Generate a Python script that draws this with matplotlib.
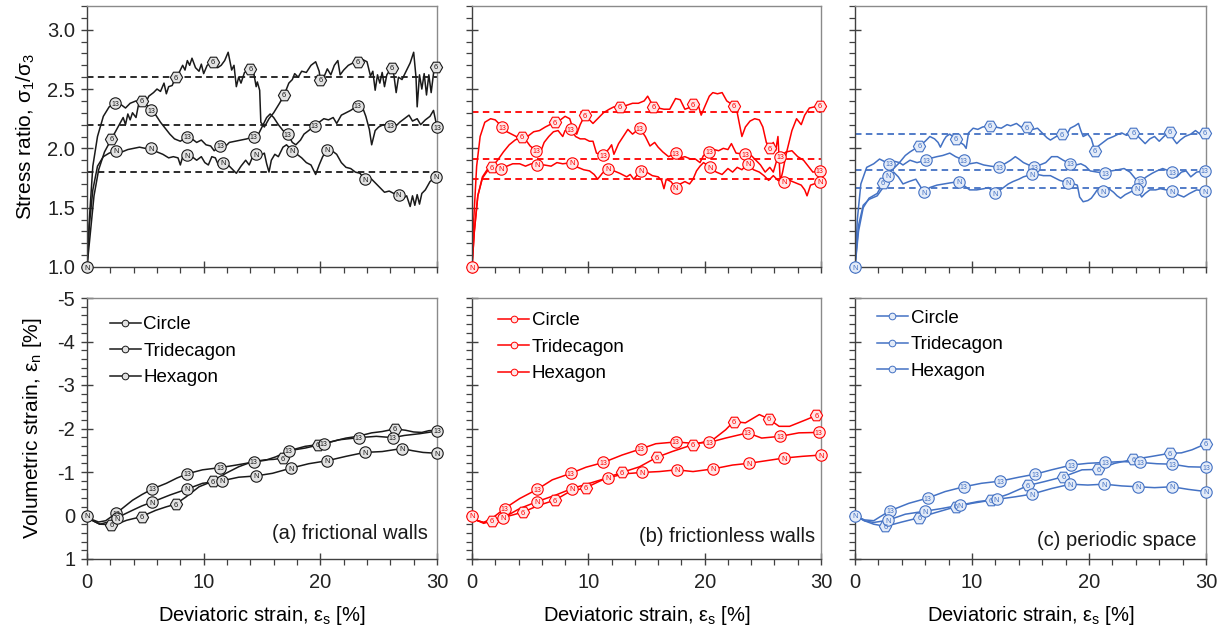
import numpy as np
import matplotlib
matplotlib.use("Agg")
import matplotlib.pyplot as plt
from matplotlib.lines import Line2D
from matplotlib.ticker import MultipleLocator, FormatStrFormatter

plt.rcParams['font.family'] = ['Liberation Sans', 'DejaVu Sans']
plt.rcParams['axes.unicode_minus'] = False
plt.rcParams['mathtext.default'] = 'regular'

# ---------------- data: (strain, value[, 1 = labelled marker]) ----------------
# Top row: stress ratio sigma1/sigma3 vs deviatoric strain
a_hex = [(0,1.0),(0.3,1.3),(0.6,1.6),(1.0,1.82),(1.5,1.97),(2.1,2.08,1),(2.6,2.17),(3.1,2.26),(3.3,2.20),(3.5,2.29),
         (3.7,2.24),(3.9,2.30),(4.2,2.26),(4.4,2.36),(4.7,2.40,1),(5.0,2.38),(5.3,2.44),(5.7,2.47),(6.0,2.50),(6.3,2.48),
         (6.6,2.55),(6.8,2.46),(7.0,2.52),(7.3,2.53),(7.6,2.60,1),(7.9,2.64),(8.2,2.70),(8.4,2.66),(8.6,2.74),(8.8,2.70),
         (9.0,2.76),(9.3,2.68),(9.6,2.65),(9.8,2.71),(10.0,2.63),(10.3,2.70),(10.8,2.73,1),(11.2,2.68),(11.5,2.70),(11.8,2.74),
         (12.1,2.81),(12.4,2.66),(12.6,2.70),(12.8,2.52),(13.0,2.60),(13.2,2.55),(13.5,2.64),(14.0,2.67,1),(14.3,2.63),(14.5,2.52),
         (14.6,2.56),(14.8,2.49),(14.9,2.22),(15.2,2.18),(15.6,2.25),(16.0,2.30),(16.5,2.38),(16.9,2.45,1),(17.3,2.55),(17.6,2.58),
         (17.8,2.63),(18.1,2.60),(18.4,2.65),(18.8,2.64),(19.2,2.70),(19.6,2.73),(19.9,2.65),(20.0,2.58,1),(20.3,2.60),(20.6,2.67),
         (20.9,2.62),(21.2,2.70),(21.5,2.74),(21.7,2.62),(22.0,2.66),(22.4,2.70),(22.8,2.72),(23.2,2.73,1),(23.6,2.75),(24.0,2.73),
         (24.3,2.61),(24.5,2.65),(24.7,2.49),(24.9,2.62),(25.1,2.55),(25.3,2.64),(25.5,2.52),(25.7,2.62),(26.1,2.68,1),(26.3,2.62),
         (26.5,2.47),(26.7,2.60),(27.0,2.58),(27.3,2.64),(27.7,2.72),(28.0,2.81),(28.2,2.60),(28.3,2.35),(28.5,2.62),(28.7,2.50),
         (28.9,2.63),(29.1,2.45),(29.3,2.62),(29.5,2.47),(29.7,2.63),(29.9,2.69,1)]
a_tri = [(0,1.0),(0.2,1.4),(0.5,1.85),(0.9,2.1),(1.4,2.27),(1.9,2.35),(2.4,2.38,1),(2.9,2.37),(3.3,2.34),(3.7,2.38),
         (4.2,2.40),(4.6,2.37),(5.0,2.38),(5.5,2.32,1),(5.9,2.28),(6.3,2.22),(6.7,2.17),(7.1,2.12),(7.5,2.08),(8.0,2.06),
         (8.6,2.10,1),(9.0,2.08),(9.4,2.05),(9.8,2.07),(10.2,2.03),(10.6,2.02),(10.9,1.98),(11.4,2.02,1),(11.8,2.01),(12.2,2.05),
         (12.7,2.06),(13.2,2.07),(13.7,2.08),(14.3,2.10,1),(14.7,2.12),(15.0,2.18),(15.4,2.26),(15.7,2.29),(16.0,2.26),(16.4,2.20),
         (16.8,2.15),(17.2,2.12,1),(17.6,2.05),(17.9,2.03),(18.3,2.07),(18.6,2.12),(19.0,2.15),(19.5,2.19,1),(19.9,2.22),(20.3,2.25),
         (20.7,2.24),(21.1,2.26),(21.4,2.21),(21.8,2.28),(22.2,2.30),(22.6,2.32),(23.2,2.36,1),(23.6,2.35),(23.9,2.27),(24.2,2.16),
         (24.4,2.03),(24.7,2.15),(25.0,2.18),(25.4,2.20),(26.0,2.19,1),(26.4,2.18),(26.8,2.22),(27.2,2.25),(27.6,2.28),(27.9,2.23),
         (28.3,2.25),(28.6,2.20),(29.0,2.24),(29.4,2.27),(29.7,2.32),(30.0,2.18,1)]
a_cir = [(0,1.0,1),(0.2,1.35),(0.5,1.65),(0.9,1.85),(1.4,1.93),(1.9,1.96),(2.5,1.98,1),(3.0,1.97),(3.5,1.99),(4.0,2.00),
         (4.5,2.01),(5.0,2.00),(5.5,2.00,1),(6.0,1.97),(6.5,1.95),(7.0,1.92),(7.4,1.93),(7.8,1.92),(8.0,1.86),(8.2,1.93),
         (8.6,1.94,1),(9.0,1.93),(9.4,1.90),(9.8,1.93),(10.1,1.88),(10.4,1.86),(10.7,1.93),(11.0,1.92),(11.3,1.85),(11.7,1.88,1),
         (12.1,1.86),(12.4,1.83),(12.8,1.79),(13.2,1.85),(13.6,1.90),(13.9,1.86),(14.2,1.93),(14.5,1.95,1),(14.9,1.94),(15.2,1.96),
         (15.4,1.87),(15.6,1.80),(15.8,1.90),(16.1,1.95),(16.4,1.93),(16.8,2.01),(17.1,2.03),(17.6,1.98,1),(18.0,1.95),(18.4,1.92),
         (18.8,1.88),(19.2,1.86),(19.6,1.78),(19.9,1.86),(20.2,1.93),(20.6,1.99,1),(21.0,1.98),(21.4,1.95),(21.8,1.88),(22.2,1.84),
         (22.6,1.83),(23.0,1.80),(23.4,1.79),(23.8,1.74,1),(24.2,1.76),(24.6,1.72),(25.1,1.67),(25.5,1.63),(25.9,1.64),(26.3,1.62),
         (26.7,1.61,1),(27.1,1.58),(27.4,1.60),(27.7,1.51),(27.9,1.60),(28.1,1.52),(28.3,1.61),(28.5,1.53),(28.7,1.62),(29.0,1.65),
         (29.4,1.72),(29.9,1.76,1)]
a_ref = [2.6, 2.2, 1.8]

b_hex = [(0,1.0),(0.2,1.3),(0.5,1.6),(0.9,1.76),(1.3,1.82),(1.7,1.84,1),(2.2,1.90),(2.7,1.97),(3.2,2.03),(3.7,2.07),
         (4.3,2.10,1),(4.6,2.07),(4.9,2.11),(5.3,2.14),(5.8,2.15),(6.3,2.18),(6.7,2.20),(7.1,2.22,1),(7.6,2.24),(8.0,2.27),
         (8.4,2.25),(8.7,2.16),(9.0,2.12),(9.3,2.20),(9.7,2.28,1),(10.0,2.25),(10.4,2.21),(10.8,2.25),(11.3,2.30),(11.8,2.33),
         (12.2,2.35),(12.7,2.35,1),(13.2,2.36),(13.8,2.38),(14.3,2.38),(14.8,2.40),(15.1,2.44),(15.6,2.35,1),(16.0,2.34),(16.5,2.33),
         (17.0,2.33),(17.5,2.42),(17.9,2.41),(18.3,2.33),(18.6,2.34),(19.0,2.37,1),(19.4,2.38),(19.7,2.28),(20.0,2.35),(20.4,2.44),
         (20.7,2.47),(21.1,2.46),(21.5,2.47),(21.9,2.40),(22.2,2.38),(22.5,2.36,1),(22.8,2.30),(23.2,2.10),(23.5,2.18),(23.9,2.23),
         (24.3,2.25),(24.7,2.24),(25.0,2.18),(25.3,2.05),(25.6,2.00,1),(25.9,2.05),(26.1,1.98),(26.3,2.10),(26.5,1.72),(26.7,1.80),
         (27.0,1.95),(27.5,2.15),(27.9,2.25),(28.3,2.20),(28.6,2.28),(29.0,2.34),(29.9,2.36,1)]
b_tri = [(0,1.0),(0.15,1.4),(0.4,1.85),(0.7,2.1),(1.1,2.22),(1.6,2.25),(2.0,2.24),(2.6,2.18,1),(3.0,2.14),(3.4,2.12),
         (3.8,2.10),(4.3,2.09),(4.7,2.06),(5.0,2.02),(5.5,1.98,1),(5.9,1.97),(6.2,2.05),(6.6,2.10),(7.0,2.14),(7.4,2.15),
         (7.8,2.10),(8.0,2.15),(8.5,2.16,1),(8.9,2.10),(9.3,2.08),(9.7,2.08),(10.1,2.06),(10.4,2.06),(10.7,1.96),(11.3,1.94,1),
         (11.8,2.00),(12.0,2.03),(12.2,1.95),(12.6,2.04),(13.0,2.10),(13.4,2.16),(13.8,2.12),(14.4,2.17,1),(14.9,2.10),(15.3,2.02),
         (15.7,2.05),(16.0,2.01),(16.4,1.97),(16.9,1.93),(17.5,1.96,1),(17.9,1.92),(18.3,1.93),(18.8,1.91),(19.2,1.91),(19.6,1.88),
         (19.9,1.94),(20.4,1.97,1),(20.8,1.99),(21.2,1.98),(21.6,2.00),(22.0,1.99),(22.3,2.04),(22.7,1.96),(23.5,1.95,1),(24.0,1.94),
         (24.4,1.90),(24.8,1.86),(25.2,1.80),(25.6,1.84),(25.9,1.80),(26.2,1.90),(26.5,1.93,1),(27.0,1.97),(27.5,1.98),(28.0,1.93),
         (28.5,1.90),(28.9,1.85),(29.3,1.80),(29.9,1.81,1)]
b_cir = [(0,1.0,1),(0.2,1.3),(0.5,1.6),(0.9,1.75),(1.4,1.82),(2.5,1.83,1),(3.0,1.85),(3.5,1.87),(4.1,1.87),(4.6,1.85),
         (5.1,1.87),(5.6,1.86,1),(6.2,1.86),(6.8,1.85),(7.3,1.88),(7.8,1.87),(8.6,1.88,1),(9.1,1.84),(9.6,1.82),(10.1,1.81),
         (10.5,1.78),(10.8,1.74),(11.2,1.79),(11.7,1.83,1),(12.2,1.81),(12.7,1.79),(13.3,1.76),(13.6,1.78),(13.9,1.74),(14.5,1.81,1),
         (15.0,1.80),(15.5,1.77),(16.0,1.76),(16.3,1.73),(16.5,1.66),(16.7,1.74),(17.1,1.72),(17.5,1.67,1),(17.9,1.70),(18.3,1.72),
         (18.7,1.70),(19.0,1.74),(19.3,1.81),(19.6,1.85),(19.9,1.88),(20.5,1.84,1),(21.0,1.80),(21.5,1.78),(22.0,1.83),(22.4,1.80),
         (22.8,1.84),(23.2,1.82),(23.7,1.87,1),(24.2,1.82),(24.7,1.80),(25.1,1.77),(25.5,1.73),(25.9,1.77),(26.3,1.73),(26.8,1.72,1),
         (27.3,1.73),(27.8,1.71),(28.3,1.69),(28.6,1.65),(28.8,1.60),(29.1,1.69),(29.4,1.70),(29.9,1.72,1)]
b_ref = [2.31, 1.91, 1.74]

c_hex = [(0,1.0),(0.3,1.3),(0.7,1.5),(1.2,1.58),(1.9,1.62),(2.4,1.71,1),(3.1,1.81),(3.8,1.88),(4.3,1.94),(4.7,1.97),
         (5.5,2.02,1),(6.0,2.06),(6.4,2.10),(6.8,2.08),(7.1,2.05),(7.3,2.01),(7.6,2.07),(7.8,2.10),(8.1,2.12),(8.6,2.08,1),
         (9.0,2.05),(9.3,2.03),(9.5,2.00),(9.7,2.13),(10.1,2.17),(10.5,2.16),(10.9,2.18),(11.5,2.19,1),(12.0,2.18),(12.5,2.17),
         (13.0,2.20),(13.3,2.19),(13.8,2.21),(14.2,2.18),(14.7,2.18,1),(15.2,2.16),(15.6,2.17),(16.1,2.12),(16.4,2.09),(16.7,2.07),
         (17.2,2.10),(17.7,2.12,1),(18.0,2.10),(18.4,2.17),(18.8,2.19),(19.1,2.21),(19.3,2.15),(19.5,2.10),(19.9,2.12),(20.2,2.08),
         (20.5,1.98,1),(20.8,2.02),(21.2,2.05),(21.6,2.08),(22.1,2.10),(22.5,2.12),(22.8,2.13),(23.2,2.11),(23.8,2.13,1),(24.2,2.10),
         (24.5,2.07),(24.8,2.04),(25.2,2.08),(25.6,2.10),(26.0,2.06),(26.4,2.10),(26.9,2.14,1),(27.2,2.08),(27.5,2.04),(27.8,2.07),
         (28.2,2.10),(28.7,2.12),(29.1,2.15),(29.5,2.12),(29.9,2.13,1)]
c_tri = [(0,1.0),(0.2,1.4),(0.5,1.7),(1.0,1.84),(1.6,1.87),(2.1,1.91),(2.9,1.87,1),(3.4,1.89),(3.8,1.88),(4.1,1.86),
         (4.7,1.90),(5.3,1.88),(6.1,1.90,1),(6.6,1.92),(7.0,1.93),(7.5,1.94),(8.1,1.96),(8.6,1.93),(9.3,1.90,1),(9.8,1.87),
         (10.4,1.88),(11.0,1.86),(11.6,1.85),(12.3,1.84,1),(12.8,1.87),(13.3,1.90),(13.7,1.93),(14.0,1.91),(14.4,1.88),(15.3,1.84,1),
         (15.8,1.86),(16.3,1.88),(16.8,1.93),(17.3,1.93),(17.8,1.90),(18.4,1.87,1),(18.9,1.86),(19.3,1.87),(19.7,1.85),(20.1,1.81),
         (20.7,1.80),(21.4,1.79,1),(21.9,1.81),(22.5,1.82),(23.0,1.83),(23.5,1.80),(24.0,1.74),(24.4,1.72,1),(24.9,1.76),(25.4,1.79),
         (25.8,1.81),(26.3,1.83),(27.1,1.80,1),(27.5,1.76),(27.9,1.80),(28.3,1.81),(28.7,1.76),(29.2,1.80),(29.9,1.81,1)]
c_cir = [(0,1.0,1),(0.3,1.35),(0.7,1.52),(1.2,1.57),(1.9,1.60),(2.4,1.67),(2.8,1.77,1),(3.3,1.80),(3.7,1.76),(4.1,1.70),
         (4.6,1.72),(5.2,1.74),(5.9,1.63,1),(6.4,1.67),(7.0,1.69),(7.6,1.70),(8.2,1.71),(8.9,1.72,1),(9.4,1.68),(9.8,1.65),
         (10.4,1.65),(11.0,1.66),(11.4,1.67),(12.0,1.62,1),(12.4,1.65),(12.7,1.67),(13.1,1.70),(13.5,1.72),(14.0,1.74),(14.4,1.76),
         (15.1,1.78,1),(15.6,1.78),(16.1,1.77),(16.7,1.77),(17.1,1.75),(17.5,1.73),(18.2,1.71,1),(18.7,1.70),(19.0,1.69),(19.2,1.59),
         (19.5,1.55),(19.9,1.56),(20.2,1.58),(20.5,1.62),(20.7,1.65),(21.2,1.64,1),(21.7,1.66),(22.1,1.63),(22.4,1.60),(22.7,1.58),
         (23.1,1.61),(23.5,1.63),(24.1,1.66,1),(24.5,1.59),(24.8,1.62),(25.2,1.65),(25.7,1.65),(26.1,1.66),(26.6,1.65),(27.1,1.64,1),
         (27.6,1.61),(28.1,1.59),(28.6,1.62),(29.2,1.65),(29.9,1.64,1)]
c_ref = [2.12, 1.82, 1.67]

# Bottom row: volumetric strain vs deviatoric strain
av_hex = [(0,0),(0.5,0.12),(1.1,0.2),(2.1,0.21,1),(2.8,0.17),(3.4,0.11),(4.0,0.07),(4.7,0.03,1),(5.3,-0.05),(5.9,-0.12),
          (6.8,-0.2),(7.6,-0.26,1),(8.5,-0.43),(9.6,-0.66),(10.8,-0.79,1),(11.9,-0.97),(13.0,-1.12),(14.2,-1.24),(15.3,-1.28),
          (16.0,-1.29),(16.8,-1.32,1),(17.6,-1.51),(18.7,-1.59),(19.8,-1.63,1),(21.0,-1.70),(22.2,-1.78),(23.2,-1.82),(24.4,-1.90),
          (25.3,-1.93),(26.4,-1.99,1),(27.3,-1.96),(28.0,-1.92),(28.7,-1.91),(29.3,-1.95),(30.0,-1.96)]
av_tri = [(0,0),(0.5,0.1),(1.0,0.15),(1.6,0.12),(2.5,-0.05,1),(3.2,-0.2),(3.9,-0.35),(4.7,-0.48),(5.6,-0.61,1),(6.8,-0.74),
          (7.7,-0.86),(8.6,-0.96,1),(9.9,-1.05),(11.4,-1.10,1),(12.8,-1.16),(14.3,-1.23,1),(15.3,-1.27),(16.2,-1.35),(17.3,-1.49,1),
          (18.7,-1.55),(20.3,-1.65,1),(21.6,-1.74),(23.3,-1.79,1),(24.8,-1.82),(26.2,-1.79,1),(27.2,-1.84),(28.5,-1.88),(29.5,-1.92),
          (30.0,-1.95,1)]
av_cir = [(0,0,1),(0.5,0.12),(1.1,0.2),(1.8,0.15),(2.6,0.06,1),(3.2,-0.03),(3.9,-0.12),(4.7,-0.22),(5.6,-0.31,1),(7.1,-0.47),
          (8.6,-0.61,1),(9.9,-0.74),(11.6,-0.80,1),(13.0,-0.88),(14.5,-0.91,1),(15.9,-0.97),(17.5,-1.09,1),(19.0,-1.19),
          (20.6,-1.26,1),(22.2,-1.36),(23.8,-1.45,1),(25.3,-1.47),(27.0,-1.54,1),(27.9,-1.49),(28.8,-1.45),(30.0,-1.43,1)]

bv_hex = [(0,0),(0.5,0.12),(1.0,0.16),(1.7,0.12,1),(2.3,0.07),(2.9,0.03),(3.6,-0.02),(4.4,-0.08,1),(5.1,-0.16),(5.8,-0.24),
          (7.1,-0.35,1),(8.4,-0.55),(9.8,-0.64,1),(10.9,-0.78),(11.9,-0.9),(12.9,-0.99,1),(14.4,-1.12),(15.9,-1.34,1),(17.2,-1.47),
          (19.0,-1.63,1),(20.7,-1.74),(21.8,-1.97),(22.5,-2.16,1),(23.5,-2.13),(24.7,-2.32),(25.5,-2.22,1),(26.4,-2.05),(27.3,-2.05),
          (28.7,-2.20),(29.6,-2.30,1)]
bv_tri = [(0,0),(0.5,0.12),(1.0,0.16),(1.8,0.05),(2.8,-0.16,1),(4.1,-0.39),(5.6,-0.60,1),(6.9,-0.82),(8.5,-0.97,1),(9.8,-1.11),
          (11.3,-1.22,1),(12.9,-1.39),(14.5,-1.53,1),(15.8,-1.65),(17.5,-1.69,1),(19.0,-1.66),(20.4,-1.68,1),(21.8,-1.78),
          (23.7,-1.90,1),(24.9,-1.78),(26.5,-1.82,1),(28.1,-1.90),(29.8,-1.91,1)]
bv_cir = [(0,0,1),(0.5,0.12),(1.0,0.18),(1.8,0.12),(2.7,0.05,1),(4.1,-0.16),(5.6,-0.32,1),(7.2,-0.47),(8.6,-0.62,1),(10.1,-0.74),
          (11.7,-0.87,1),(13.2,-0.96),(14.6,-0.99,1),(16.1,-1.01),(17.6,-1.05,1),(19.0,-1.01),(20.7,-1.07,1),(22.4,-1.16),
          (23.8,-1.20,1),(25.3,-1.26),(26.8,-1.32,1),(28.4,-1.36),(30.0,-1.39,1)]

cv_hex = [(0,0),(0.8,0.12),(1.6,0.2),(2.6,0.25,1),(4.0,0.15),(5.5,0.05,1),(6.8,-0.06),(8.6,-0.20,1),(10.0,-0.28),(11.6,-0.35,1),
          (13.1,-0.49),(14.8,-0.69,1),(16.2,-0.78),(17.8,-0.89,1),(19.4,-1.05),(20.8,-1.06,1),(22.2,-1.20),(23.8,-1.29,1),
          (25.4,-1.36),(26.9,-1.43,1),(27.9,-1.44),(28.8,-1.51),(30.0,-1.65,1)]
cv_tri = [(0,0),(0.8,0.1),(1.6,0.12),(2.2,0.02),(3.0,-0.11,1),(4.6,-0.28),(6.2,-0.40,1),(7.7,-0.55),(9.3,-0.66,1),(10.8,-0.74),
          (12.4,-0.79,1),(14.0,-0.88),(15.4,-0.95,1),(16.8,-1.05),(18.5,-1.16,1),(19.9,-1.20),(21.4,-1.22,1),(22.8,-1.24),
          (24.4,-1.22,1),(25.8,-1.19),(27.1,-1.18,1),(28.5,-1.12),(30.0,-1.11,1)]
cv_cir = [(0,0,1),(0.8,0.12),(1.6,0.16),(2.8,0.11,1),(4.3,-0.03),(6.0,-0.10,1),(7.4,-0.16),(9.0,-0.24,1),(10.5,-0.32),
          (12.1,-0.37,1),(13.7,-0.43),(15.1,-0.49,1),(16.8,-0.62),(18.4,-0.72,1),(19.9,-0.70),(21.3,-0.72,1),(22.8,-0.68),
          (24.2,-0.66,1),(25.6,-0.64),(27.1,-0.66,1),(28.5,-0.60),(30.0,-0.55,1)]

legend_labels = ["Circle", "Tridecagon", "Hexagon"]
panel_titles = ["(a) frictional walls", "(b) frictionless walls", "(c) periodic space"]
stress_yticks = [1.0, 1.5, 2.0, 2.5, 3.0]
vol_yticks = [-5, -4, -3, -2, -1, 0, 1]
x_ticks = [0, 10, 20, 30]

# ---------------- styling ----------------
colors = ['#1a1a1a', '#ff0000', '#4472c4']
faces = ['#e2e2e2', '#ffe6e6', '#e3ebf8']
spine_dark = '#404040'
spine_light = '#8a8a8a'
FS_TICK = 14.5
FS_LAB = 14.5

W, H = 1230, 627
fig = plt.figure(figsize=(W / 100, H / 100), dpi=100)
lefts = [87, 472, 855]
widths = [350, 349, 351]
top_row = (6, 267)
bot_row = (298, 559)


def make_ax(l, w, row):
    t, b = row
    return fig.add_axes([l / W, 1 - b / H, w / W, (b - t) / H])


def style_ax(ax):
    for s in ['left', 'bottom']:
        ax.spines[s].set_color(spine_dark)
    for s in ['top', 'right']:
        ax.spines[s].set_color(spine_light)
    for s in ax.spines.values():
        s.set_linewidth(1.0)
    ax.tick_params(which='major', direction='inout', length=9, width=1.0, color=spine_dark,
                   labelsize=FS_TICK, pad=4, labelcolor='#222222')
    ax.tick_params(axis='x', which='major', pad=5.5)
    ax.tick_params(which='minor', direction='out', length=4, width=0.9, color=spine_dark)
    ax.set_xlim(0, 30)
    ax.set_xticks(x_ticks)
    ax.xaxis.set_minor_locator(MultipleLocator(2))


def draw(ax, data, mk, txt, color, face, ms):
    x = np.array([p[0] for p in data], dtype=float)
    y = np.array([p[1] for p in data], dtype=float)
    m = np.array([len(p) == 3 for p in data])
    ax.plot(x, y, color=color, lw=1.1, zorder=2)
    ax.plot(x[m], y[m], ls='none', marker=mk, ms=ms, mfc=face, mec=color, mew=0.8, zorder=3,
            clip_on=False)
    for xi, yi in zip(x[m], y[m]):
        ax.text(xi, yi, txt, fontsize=5.4 if len(txt) == 1 else 5.0, ha='center',
                va='center_baseline', color=color, zorder=4, clip_on=False)


tops = [(a_cir, a_tri, a_hex, a_ref), (b_cir, b_tri, b_hex, b_ref), (c_cir, c_tri, c_hex, c_ref)]
bots = [(av_cir, av_tri, av_hex), (bv_cir, bv_tri, bv_hex), (cv_cir, cv_tri, cv_hex)]
title_y = [0.096, 0.088, 0.069]
title_x = [0.974, 0.983, 0.972]
leg_x = [0.065, 0.075, 0.062]
leg_y = [0.93, 0.945, 0.955]

for i in range(3):
    col, face = colors[i], faces[i]
    # ---- top panel ----
    ax = make_ax(lefts[i], widths[i], top_row)
    style_ax(ax)
    ax.set_ylim(1.0, 3.2)
    ax.set_yticks(stress_yticks)
    ax.yaxis.set_minor_locator(MultipleLocator(0.1))
    ax.yaxis.set_major_formatter(FormatStrFormatter('%.1f'))
    ax.tick_params(axis='x', which='both', labelbottom=False)
    cir, tri, hexa, ref = tops[i]
    for r in ref:
        ax.axhline(r, color=col, lw=1.3, dashes=(3.6, 2.4), zorder=1)
    draw(ax, hexa, 'H', '6', col, face, 8.8)
    draw(ax, tri, 'o', '13', col, face, 8.2)
    draw(ax, cir, 'o', 'N', col, face, 8.2)
    if i == 0:
        ax.set_ylabel(r'Stress ratio, $\mathregular{σ_1/σ_3}$', fontsize=15)
        ax.yaxis.set_label_coords(-0.143, 0.5)
    else:
        ax.tick_params(axis='y', which='both', labelleft=False)

    # ---- bottom panel ----
    ax = make_ax(lefts[i], widths[i], bot_row)
    style_ax(ax)
    ax.set_ylim(1, -5)
    ax.set_yticks(vol_yticks)
    ax.yaxis.set_minor_locator(MultipleLocator(0.2))
    cir, tri, hexa = bots[i]
    draw(ax, hexa, 'H', '6', col, face, 8.8)
    draw(ax, tri, 'o', '13', col, face, 8.2)
    draw(ax, cir, 'o', 'N', col, face, 8.2)
    ax.set_xlabel(r'Deviatoric strain, $\mathregular{ε_s}$ [%]', fontsize=FS_LAB, labelpad=8.5)
    if i == 0:
        ax.set_ylabel(r'Volumetric strain, $\mathregular{ε_n}$ [%]', fontsize=15)
        ax.yaxis.set_label_coords(-0.122, 0.5)
    else:
        ax.tick_params(axis='y', which='both', labelleft=False)
    handles = [Line2D([], [], color=col, lw=1.1, marker='o', ms=4.8, mfc=face, mec=col, mew=0.7)
               for _ in range(3)]
    ax.legend(handles, legend_labels, loc='upper left', bbox_to_anchor=(leg_x[i], leg_y[i]),
              frameon=False, fontsize=13.5, handlelength=1.65, handletextpad=0.15,
              labelspacing=0.5, borderaxespad=0, borderpad=0)
    ax.text(title_x[i], title_y[i], panel_titles[i], transform=ax.transAxes, ha='right',
            va='center', fontsize=14.5, color='#1a1a1a')

fig.savefig('out.png', dpi=100)
